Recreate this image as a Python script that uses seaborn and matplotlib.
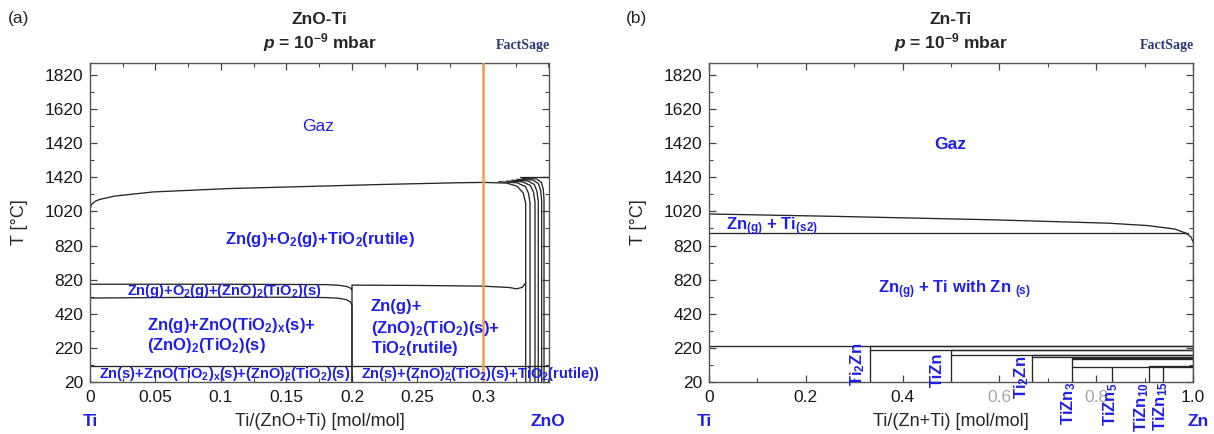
import numpy as np
import pandas as pd
import matplotlib
matplotlib.use("Agg")
import matplotlib.pyplot as plt
import seaborn as sns
from matplotlib.ticker import FixedLocator, MultipleLocator

sns.set_style("ticks")
plt.rcParams['font.family'] = ['Liberation Sans', 'DejaVu Sans']
plt.rcParams['mathtext.fontset'] = 'custom'
plt.rcParams['mathtext.rm'] = 'Liberation Sans:bold'
plt.rcParams['mathtext.it'] = 'Liberation Sans:italic:bold'
plt.rcParams['mathtext.bf'] = 'Liberation Sans:bold'

# ---------------- shared axis data ----------------
T_ticks = [20, 220, 420, 620, 820, 1020, 1220, 1420, 1620, 1820]
T_tick_labels = ["20", "220", "420", "820", "820", "1020", "1420", "1420", "1620", "1820"]
T_minor = [120, 320, 520, 720, 920, 1120, 1320, 1520, 1720]

# ---------------- panel (a): ZnO-Ti ----------------
a_xticks = [0, 0.05, 0.1, 0.15, 0.2, 0.25, 0.3]
a_xtick_labels = ["0", "0.05", "0.1", "0.15", "0.2", "0.25", "0.3"]

a_gas_x = [0.0, 0.001, 0.004, 0.0073, 0.019, 0.048, 0.106, 0.165, 0.223, 0.281, 0.300, 0.318, 0.326, 0.3307, 0.3326, 0.3326]
a_gas_T = [1030, 1060, 1080, 1090, 1110, 1134, 1154, 1166, 1178, 1188, 1190, 1186, 1168, 1128, 1069, 20]

a_band_top_x = [0.0, 0.10, 0.18, 0.19, 0.196, 0.199, 0.200]
a_band_top_T = [593, 593, 591, 587, 580, 570, 560]
a_band_low_x = [0.0, 0.05, 0.10, 0.15, 0.18, 0.19, 0.196, 0.199, 0.200, 0.200]
a_band_low_T = [512, 515, 517, 517, 515, 511, 502, 488, 468, 20]
a_right_band_x = [0.200, 0.200, 0.25, 0.30, 0.32, 0.3257, 0.3300, 0.3326]
a_right_band_T = [20, 588, 586, 582, 574, 566, 575, 600]
a_solid_x = [0.0, 0.3504]
a_solid_T = [112, 112]

a_n1_x = [0.312, 0.326, 0.3325, 0.3348, 0.3359, 0.3359]
a_n1_T = [1194, 1188, 1165, 1125, 1070, 20]
a_n2_x = [0.318, 0.330, 0.3362, 0.3386, 0.3397, 0.3397]
a_n2_T = [1198, 1194, 1172, 1132, 1075, 20]
a_n3_x = [0.322, 0.334, 0.3392, 0.3412, 0.3422, 0.3422]
a_n3_T = [1203, 1199, 1178, 1138, 1080, 20]
a_n4_x = [0.326, 0.338, 0.3422, 0.3440, 0.3448, 0.3448]
a_n4_T = [1208, 1204, 1184, 1144, 1085, 20]
a_n5_x = [0.330, 0.341, 0.3446, 0.3460, 0.3466, 0.3466]
a_n5_T = [1214, 1210, 1190, 1150, 1090, 20]
a_top_x = [0.328, 0.3504]
a_top_T = [1222, 1222]

a_marker_x = 0.30

# ---------------- panel (b): Zn-Ti ----------------
b_xticks = [0, 0.2, 0.4, 0.6, 0.8, 1.0]
b_xtick_labels = ["0", "0.2", "0.4", "0.6", "0.8", "1.0"]

b_top_x = [0.0, 0.26, 0.583, 0.825, 0.906, 0.962, 0.986, 0.996, 1.0]
b_top_T = [1005, 991, 971, 951, 937, 917, 892, 870, 842]
b_h900_x = [0.0, 0.99]
b_h900_T = [896, 896]
b_h231_x = [0.0, 1.0]
b_h231_T = [231, 231]
b_ti2zn_x = [0.333, 0.333, 1.0]
b_ti2zn_T = [20, 231, 231]
b_h210_x = [0.333, 1.0]
b_h210_T = [209, 209]
b_tizn_x = [0.5, 0.5, 1.0]
b_tizn_T = [20, 209, 209]
b_h180_x = [0.5, 1.0]
b_h180_T = [180, 180]
b_tizn2_x = [0.667, 0.667, 1.0]
b_tizn2_T = [20, 180, 180]
b_h167_x = [0.667, 1.0]
b_h167_T = [167, 167]
b_tizn3_x = [0.75, 0.75, 1.0]
b_tizn3_T = [20, 160, 160]
b_h155_x = [0.75, 1.0]
b_h155_T = [155, 155]
b_h106_x = [0.75, 1.0]
b_h106_T = [106, 106]
b_tizn5_x = [0.833, 0.833]
b_tizn5_T = [20, 106]
b_tizn10_x = [0.909, 0.909]
b_tizn10_T = [20, 112]
b_tizn15_x = [0.9375, 0.9375]
b_tizn15_T = [20, 112]
b_h112_x = [0.909, 1.0]
b_h112_T = [112, 112]
b_edge_x = [1.0, 1.0]
b_edge_T = [20, 842]


def frame(curves):
    parts = []
    for i, (xs, ts) in enumerate(curves):
        parts.append(pd.DataFrame({"x": xs, "T": ts, "curve": i}))
    return pd.concat(parts, ignore_index=True)


df_a = frame([(a_gas_x, a_gas_T), (a_band_top_x, a_band_top_T), (a_band_low_x, a_band_low_T),
              (a_right_band_x, a_right_band_T), (a_solid_x, a_solid_T),
              (a_n1_x, a_n1_T), (a_n2_x, a_n2_T), (a_n3_x, a_n3_T), (a_n4_x, a_n4_T),
              (a_n5_x, a_n5_T), (a_top_x, a_top_T)])
df_b = frame([(b_top_x, b_top_T), (b_h900_x, b_h900_T), (b_h231_x, b_h231_T),
              (b_ti2zn_x, b_ti2zn_T), (b_h210_x, b_h210_T), (b_tizn_x, b_tizn_T),
              (b_h180_x, b_h180_T), (b_tizn2_x, b_tizn2_T), (b_h167_x, b_h167_T),
              (b_tizn3_x, b_tizn3_T), (b_h155_x, b_h155_T), (b_h106_x, b_h106_T),
              (b_tizn5_x, b_tizn5_T), (b_tizn10_x, b_tizn10_T), (b_tizn15_x, b_tizn15_T),
              (b_h112_x, b_h112_T), (b_edge_x, b_edge_T)])

W, H = 1214, 434
fig = plt.figure(figsize=(W / 100, H / 100), dpi=100)
ax1 = fig.add_axes([90 / W, 1 - 382 / H, (549 - 90) / W, (382 - 63) / H])
ax2 = fig.add_axes([709 / W, 1 - 382 / H, (1193 - 709) / W, (382 - 63) / H])

LINE = "#262626"
BLUE = "#1f1fe6"

sns.lineplot(data=df_a, x="x", y="T", units="curve", estimator=None, sort=False,
             color=LINE, lw=0.95, ax=ax1, legend=False)
sns.lineplot(data=df_b, x="x", y="T", units="curve", estimator=None, sort=False,
             color=LINE, lw=0.95, ax=ax2, legend=False)
ax1.axvline(a_marker_x, color="#f39a4c", lw=1.8, zorder=3)

for ax in (ax1, ax2):
    ax.set_ylim(20, 1890)
    ax.yaxis.set_major_locator(FixedLocator(T_ticks))
    ax.set_yticklabels(T_tick_labels)
    ax.yaxis.set_minor_locator(FixedLocator(T_minor))
    ax.tick_params(which="both", direction="in", top=True, right=True, colors="#444444",
                   labelcolor="#1a1a1a", labelsize=12.5)
    ax.tick_params(which="major", length=5, width=0.9)
    ax.tick_params(which="minor", length=3, width=0.8)
    ax.tick_params(axis="y", pad=5)
    ax.tick_params(axis="x", pad=6)
    for s in ax.spines.values():
        s.set_color("#555555")
        s.set_linewidth(1.0)
    ax.set_ylabel("T [°C]", fontsize=13)
    ax.yaxis.set_label_coords(-0.135, 0.5)

ax1.set_xlim(0, 0.3504)
ax1.set_xticks(a_xticks)
ax1.set_xticklabels(a_xtick_labels)
ax1.xaxis.set_minor_locator(MultipleLocator(0.025))
ax1.set_xlabel("Ti/(ZnO+Ti) [mol/mol]", fontsize=13)
ax1.xaxis.set_label_coords(0.5, -0.125)
ax1.xaxis.label.set_va("center")

ax2.set_xlim(0, 1.0)
ax2.set_xticks(b_xticks)
ax2.set_xticklabels(b_xtick_labels)
ax2.xaxis.set_minor_locator(MultipleLocator(0.1))
for i in (3, 4):
    ax2.get_xticklabels()[i].set_color("#a6a6a6")
ax2.set_xlabel("Ti/(Zn+Ti) [mol/mol]", fontsize=13)
ax2.xaxis.set_label_coords(0.5, -0.125)
ax2.xaxis.label.set_va("center")
ax2.yaxis.set_label_coords(-0.128, 0.5)

# ---- panel (a) labels ----
bk = dict(color=BLUE, fontweight="bold", clip_on=False)
ax1.text(0.174, 1515, "Gaz", color=BLUE, fontsize=12.5, ha="center", va="center")
ax1.text(0.1756, 858, r"Zn(g)+O$_2$(g)+TiO$_2$(rutile)", fontsize=12, ha="center", va="center", **bk)
ax1.text(0.1027, 553, r"Zn(g)+O$_2$(g)+(ZnO)$_2$(TiO$_2$)(s)", fontsize=10.5, ha="center", va="center", **bk)
ax1.text(0.0437, 354, r"Zn(g)+ZnO(TiO$_2$)$_\mathrm{x}$(s)+", fontsize=12, ha="left", va="center", **bk)
ax1.text(0.0437, 235, r"(ZnO)$_2$(TiO$_2$)(s)", fontsize=12, ha="left", va="center", **bk)
ax1.text(0.2144, 464, r"Zn(g)+", fontsize=12, ha="left", va="center", **bk)
ax1.text(0.2144, 334, r"(ZnO)$_2$(TiO$_2$)(s)+", fontsize=12, ha="left", va="center", **bk)
ax1.text(0.2144, 215, r"TiO$_2$(rutile)", fontsize=12, ha="left", va="center", **bk)
ax1.text(0.1024, 66, r"Zn(s)+ZnO(TiO$_2$)$_\mathrm{x}$(s)+(ZnO)$_2$(TiO$_2$)(s)", fontsize=10.5,
         ha="center", va="center", **bk)
ax1.text(0.2071, 66, r"Zn(s)+(ZnO)$_2$(TiO$_2$)(s)+TiO$_2$(rutile))", fontsize=10.5,
         ha="left", va="center", **bk)
ax1.text(0.0, -0.125, "Ti", transform=ax1.get_xaxis_transform(), fontsize=12.5, ha="center", va="center", **bk)
ax1.text(0.3496, -0.125, "ZnO", transform=ax1.get_xaxis_transform(), fontsize=12.5, ha="center", va="center", **bk)

# ---- panel (b) labels ----
ax2.text(0.498, 1415, "Gaz", fontsize=12.5, ha="center", va="center", **bk)
ax2.text(0.0355, 930, r"Zn$_{\mathrm{(g)}}$ + Ti$_{\mathrm{(s2)}}$", fontsize=12, ha="left", va="center", **bk)
ax2.text(0.508, 563, r"Zn$_{\mathrm{(g)}}$ + Ti with Zn $_{\mathrm{(s)}}$", fontsize=12, ha="center", va="center", **bk)
rot = dict(rotation=90, fontsize=12, ha="center", va="center", **bk)
ax2.text(0.308, 125, r"Ti$_2$Zn", **rot)
ax2.text(0.472, 92, r"TiZn", **rot)
ax2.text(0.646, 46, r"Ti$_2$Zn", **rot)
ax2.text(0.744, -103, r"TiZn$_3$", **rot)
ax2.text(0.829, -109, r"TiZn$_5$", **rot)
ax2.text(0.893, -125, r"TiZn$_{10}$", **rot)
ax2.text(0.934, -121, r"TiZn$_{15}$", **rot)
ax2.text(-0.01, -0.125, "Ti", transform=ax2.get_xaxis_transform(), fontsize=12.5, ha="center", va="center", **bk)
ax2.text(1.01, -0.125, "Zn", transform=ax2.get_xaxis_transform(), fontsize=12.5, ha="center", va="center", **bk)

# ---- titles, panel letters, logo text ----
for cx, name in ((319.5, "ZnO-Ti"), (951, "Zn-Ti")):
    fig.text(cx / W, 1 - 20 / H, name, fontsize=12.5, fontweight="bold", ha="center", va="center")
    fig.text(cx / W, 1 - 43 / H, r"$p$ = 10$^{-9}$ mbar", fontsize=12.5, fontweight="bold",
             ha="center", va="center")
fig.text(8 / W, 1 - 18 / H, "(a)", fontsize=12.5, ha="left", va="center")
fig.text(626 / W, 1 - 18 / H, "(b)", fontsize=12.5, ha="left", va="center")
for rx in (550, 1194):
    fig.text(rx / W, 1 - 46 / H, "FactSage", fontsize=10, fontweight="bold", color="#2b3c78",
             ha="right", va="center", family="Liberation Serif")

fig.savefig("out.png", dpi=100)
